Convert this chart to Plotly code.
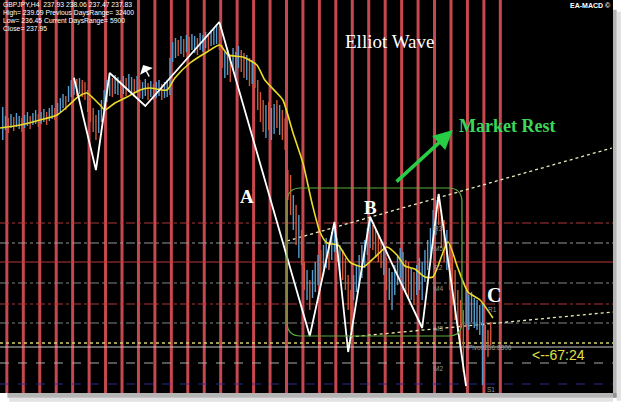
import plotly.graph_objects as go

# ---------------- data ----------------
bars_per_day = 6
bar_index = list(range(1, 180))
bar_high = [
    239.23, 239.14, 239.12, 239.16, 239.13, 239.17, 239.14, 239.12, 239.15, 239.18,
    239.14, 239.17, 239.20, 239.16, 239.18, 239.21, 239.18, 239.22, 239.25, 239.22,
    239.27, 239.32, 239.36, 239.34, 239.44, 239.50, 239.53, 239.51, 239.52, 239.50,
    239.48, 239.40, 239.32, 239.22, 239.15, 239.20, 239.30, 239.40, 239.50, 239.54,
    239.52, 239.55, 239.53, 239.50, 239.54, 239.52, 239.56, 239.53, 239.51, 239.54,
    239.50, 239.48, 239.51, 239.47, 239.49, 239.46, 239.48, 239.50, 239.46, 239.48,
    239.50, 239.72, 239.88, 239.92, 239.90, 239.94, 239.91, 239.95, 239.93, 239.96,
    239.94, 239.92, 239.97, 239.95, 239.98, 239.96, 240.00, 240.02, 240.06, 240.04,
    239.85, 239.78, 239.80, 239.75, 239.82, 239.78, 239.84, 239.80, 239.77, 239.75,
    239.72, 239.70, 239.68, 239.50, 239.38, 239.30, 239.25, 239.28, 239.22, 239.26,
    239.30, 239.25, 239.20, 239.12, 238.60, 238.55, 238.35, 238.25, 238.15, 238.00,
    237.68, 237.60, 237.50, 237.60, 237.68, 237.75, 237.80, 237.85, 237.92, 237.88,
    237.98, 238.05, 237.92, 237.85, 237.80, 237.72, 237.55, 237.40, 237.55, 237.65,
    237.75, 237.85, 237.90, 238.02, 238.10, 238.05, 238.00, 237.95, 237.90, 237.85,
    237.72, 237.62, 237.58, 237.65, 237.75, 237.82, 237.78, 237.70, 237.68, 237.62,
    237.58, 237.65, 237.72, 237.68, 237.80, 237.90, 238.02, 238.20, 238.30, 238.36,
    238.20, 238.10, 238.00, 237.85, 237.75, 237.60, 237.40, 237.30, 237.20, 237.40,
    237.35, 237.38, 237.32, 237.30, 237.25, 237.27, 237.05, 237.00, 237.08,
]
bar_low = [
    238.90, 239.00, 238.97, 239.02, 238.99, 239.03, 239.01, 238.98, 239.02, 239.04,
    239.01, 239.05, 239.06, 239.03, 239.06, 239.08, 239.05, 239.09, 239.11, 239.10,
    239.14, 239.18, 239.22, 239.20, 239.28, 239.33, 239.35, 239.34, 239.36, 239.33,
    239.30, 239.18, 239.08, 238.98, 238.90, 238.97, 239.08, 239.18, 239.28, 239.34,
    239.33, 239.36, 239.35, 239.32, 239.36, 239.34, 239.38, 239.35, 239.33, 239.37,
    239.32, 239.31, 239.34, 239.30, 239.33, 239.30, 239.32, 239.34, 239.30, 239.32,
    239.33, 239.35, 239.68, 239.72, 239.74, 239.76, 239.73, 239.78, 239.75, 239.80,
    239.77, 239.75, 239.80, 239.78, 239.82, 239.79, 239.84, 239.85, 239.86, 239.80,
    239.62, 239.52, 239.55, 239.48, 239.60, 239.54, 239.62, 239.58, 239.52, 239.50,
    239.44, 239.46, 239.42, 239.20, 239.08, 238.98, 238.92, 239.00, 238.90, 238.96,
    239.02, 238.95, 238.90, 238.80, 238.30, 238.15, 238.00, 237.85, 237.72, 237.65,
    237.40, 237.30, 237.20, 237.32, 237.38, 237.45, 237.50, 237.55, 237.62, 237.60,
    237.70, 237.78, 237.68, 237.55, 237.50, 237.40, 237.20, 237.00, 237.30, 237.38,
    237.45, 237.52, 237.62, 237.75, 237.82, 237.80, 237.72, 237.68, 237.62, 237.55,
    237.40, 237.30, 237.20, 237.35, 237.45, 237.52, 237.40, 237.38, 237.32, 237.30,
    237.25, 237.35, 237.40, 237.30, 237.48, 237.60, 237.70, 237.85, 237.95, 238.05,
    237.82, 237.68, 237.60, 237.40, 237.25, 237.10, 236.95, 236.80, 236.58, 237.05,
    237.00, 237.08, 237.02, 237.00, 236.95, 236.45, 236.80, 236.73, 236.85,
]
bar_dir = ("UUDUDUUDUU" "DUUDUUDUUD" "UUUDUUUDUD" "DDDDDUUUUU" "DUUDUDUUDU"
           "DUUDUDUUDU" "UUUUDUDUDU" "UDUUUDUUUD" "DUUDUUUDDU" "DUDDDDUDUU"
           "DUDDDDUDUD" "DUDUUUDUUD" "UUDUDDDDUU" "UUUUUDDDDU" "DUUUUUUDDU"
           "DUUUUUUUUD" "DDUDDDDDDU" "UUUUUUDDD")

ma_x = [0, 7.3, 14.6, 20.8, 24.4, 28.4, 31.7, 33.9, 36.5, 38.3, 41.9, 46.3, 51.1, 54.7,
        60.9, 63.8, 69.3, 75.5, 80.2, 83.2, 88.6, 93.7, 96.6, 101.0, 103.2, 106.9, 110.5,
        113.8, 116.7, 119.3, 123.3, 127.6, 132.4, 136.8, 141.1, 144.8, 147.7, 151.3, 155.0,
        157.9, 163.4, 167.0, 170.7, 175.1, 179.8]
ma_y = [239.02, 239.05, 239.10, 239.15, 239.23, 239.33, 239.37, 239.32, 239.25, 239.20,
        239.27, 239.33, 239.40, 239.42, 239.40, 239.52, 239.67, 239.78, 239.85, 239.75,
        239.73, 239.65, 239.50, 239.37, 239.30, 238.97, 238.67, 238.27, 237.98, 237.87,
        237.85, 237.68, 237.63, 237.73, 237.83, 237.75, 237.64, 237.61, 237.53, 237.53,
        237.88, 237.62, 237.38, 237.30, 237.12]

zz_x = [27, 35, 40, 53, 80, 113, 122, 127, 135, 154, 160, 170]
zz_y = [239.52, 238.60, 239.57, 239.24, 240.08, 236.94, 238.08, 236.78, 238.13, 237.02,
        238.36, 236.44]

level_names = ["R3", "M5", "R2", "M4", "R1", "M3", "Pivot 236.8306", "M2", "S1"]
level_prices = [238.07, 237.87, 237.68, 237.47, 237.26, 237.07, 236.83, 236.67, 236.46]
level_colors = ["rgb(175,55,55)", "rgb(150,150,150)", "rgb(185,55,55)", "rgb(130,130,130)",
                "rgb(175,55,55)", "rgb(130,130,130)", "rgb(200,200,200)", "rgb(170,170,170)",
                "rgb(45,45,140)"]
level_dash = ["dashdot", "dashdot", "solid", "dashdot", "dashdot", "dashdot", "solid",
              "dash", "dash"]
level_label_x = [160, 160, 160, 160, 179.5, 160, 170.5, 160, 179]
bid_price = 236.87

trend_upper_x = [104.7, 223.2]
trend_upper_y = [237.89, 238.82]
trend_lower_x = [127.6, 223.6]
trend_lower_y = [236.93, 237.18]

box_x = [104.7, 168.5]
box_y = [236.94, 238.42]

header_lines = ["GBPJPY,H4  237.93 238.06 237.47 237.83",
                "High= 239.69 Previous DaysRange= 32400",
                "Low= 236.45 Current DaysRange= 5900",
                "Close= 237.95"]

X_RANGE = [0, 223.6]
Y_RANGE = [236.37, 240.30]

# ---------------- figure ----------------
fig = go.Figure()

# day separators
n_days = 31
sep_x, sep_y = [], []
for k in range(n_days):
    s = 2.5 + bars_per_day * k
    sep_x += [s, s, None]
    sep_y += [Y_RANGE[0], Y_RANGE[1], None]
fig.add_trace(go.Scatter(x=sep_x, y=sep_y, mode="lines",
                         line=dict(color="rgb(198,72,78)", width=3), hoverinfo="skip"))

# pivot levels
for p, c, d in zip(level_prices, level_colors, level_dash):
    fig.add_trace(go.Scatter(x=X_RANGE, y=[p, p], mode="lines",
                             line=dict(color=c, width=1, dash=d), hoverinfo="skip"))
fig.add_trace(go.Scatter(x=X_RANGE, y=[bid_price, bid_price], mode="lines",
                         line=dict(color="rgb(210,210,110)", width=1.6, dash="dot"),
                         hoverinfo="skip"))

# trend lines
fig.add_trace(go.Scatter(x=trend_upper_x, y=trend_upper_y, mode="lines",
                         line=dict(color="rgb(235,235,190)", width=1.3, dash="dot")))
fig.add_trace(go.Scatter(x=trend_lower_x, y=trend_lower_y, mode="lines",
                         line=dict(color="rgb(235,235,170)", width=1.3, dash="dot")))

# candles
def segs(dirc):
    xs, ys = [], []
    for i, h, l, d in zip(bar_index, bar_high, bar_low, bar_dir):
        if d == dirc:
            xs += [i, i, None]
            ys += [l, h, None]
    return xs, ys

ux, uy = segs("U")
dx, dy = segs("D")
fig.add_trace(go.Scatter(x=ux, y=uy, mode="lines",
                         line=dict(color="rgb(85,155,205)", width=1.4)))
fig.add_trace(go.Scatter(x=dx, y=dy, mode="lines",
                         line=dict(color="rgb(210,85,55)", width=1.4)))

# moving average
fig.add_trace(go.Scatter(x=ma_x, y=ma_y, mode="lines",
                         line=dict(color="rgb(235,220,40)", width=1.6, shape="spline",
                                   smoothing=0.6)))
# zigzag
fig.add_trace(go.Scatter(x=zz_x, y=zz_y, mode="lines",
                         line=dict(color="white", width=1.8)))

# rounded green box
x0, x1 = box_x
y0, y1 = box_y
rx, ry = 5.0, 0.14
path = (f"M {x0+rx},{y1} L {x1-rx},{y1} Q {x1},{y1} {x1},{y1-ry} "
        f"L {x1},{y0+ry} Q {x1},{y0} {x1-rx},{y0} L {x0+rx},{y0} "
        f"Q {x0},{y0} {x0},{y0+ry} L {x0},{y1-ry} Q {x0},{y1} {x0+rx},{y1} Z")
shapes = [dict(type="path", path=path, xref="x", yref="y",
               line=dict(color="rgb(95,170,60)", width=1.2), layer="above")]

# frame shadow (right / bottom)
shapes += [
    dict(type="rect", xref="paper", yref="paper", x0=1.0, x1=1.006, y0=-0.012, y1=0.975,
         fillcolor="rgba(120,120,120,0.55)", line=dict(width=0), layer="above"),
    dict(type="rect", xref="paper", yref="paper", x0=1.006, x1=1.013, y0=-0.02, y1=0.97,
         fillcolor="rgba(190,190,190,0.45)", line=dict(width=0), layer="above"),
    dict(type="rect", xref="paper", yref="paper", x0=0.012, x1=1.006, y0=-0.012, y1=0.0,
         fillcolor="rgba(120,120,120,0.55)", line=dict(width=0), layer="above"),
    dict(type="rect", xref="paper", yref="paper", x0=0.015, x1=1.0, y0=-0.022, y1=-0.012,
         fillcolor="rgba(190,190,190,0.45)", line=dict(width=0), layer="above"),
]

ann = []
# header (4 separate lines, tightly spaced like the terminal overlay)
hy_px = [5.0, 12.8, 20.6, 28.4]
for t, ypx in zip(header_lines, hy_px):
    ann.append(dict(text=t, xref="paper", yref="paper", x=0.003, y=1 - ypx / 393,
                    xanchor="left", yanchor="middle", showarrow=False, borderpad=0,
                    font=dict(family="Liberation Sans", size=6.8, color="white")))
ann.append(dict(text="<b>EA-MACD ©</b>", xref="paper", yref="paper", x=0.998, y=0.9855,
                xanchor="right", yanchor="middle", showarrow=False, borderpad=0,
                font=dict(family="Liberation Sans", size=7, color="white")))
# level labels
for name, p, lx in zip(level_names, level_prices, level_label_x):
    is_piv = name.startswith("Pivot")
    ann.append(dict(text=name, x=lx, y=p, xanchor="left" if is_piv else "center",
                    yanchor="middle", yshift=0 if is_piv else -5,
                    showarrow=False, borderpad=0,
                    font=dict(family="Liberation Sans", size=6.5, color="rgb(150,150,150)")))
# titles / wave labels
serif = "Liberation Serif"
ann += [
    dict(text="Elliot Wave", x=142.2, y=239.89, showarrow=False,
         font=dict(family=serif, size=19, color="white")),
    dict(text="<b>Market Rest</b>", x=184.9, y=239.04, showarrow=False,
         font=dict(family=serif, size=18, color="rgb(60,215,90)")),
    dict(text="<b>A</b>", x=90.1, y=238.34, showarrow=False,
         font=dict(family=serif, size=19, color="white")),
    dict(text="<b>B</b>", x=135.3, y=238.23, showarrow=False,
         font=dict(family=serif, size=19, color="white")),
    dict(text="<b>C</b>", x=180.2, y=237.35, showarrow=False,
         font=dict(family=serif, size=20, color="white")),
    dict(text="<--67:24", x=203.9, y=236.75, showarrow=False,
         font=dict(family="Liberation Sans", size=14, color="rgb(225,225,70)")),
    # green arrow
    dict(text="", x=165.2, y=239.00, ax=144.1, ay=238.47, axref="x", ayref="y",
         showarrow=True, arrowhead=2, arrowsize=1.1, arrowwidth=3.5,
         arrowcolor="rgb(40,205,70)"),
    # mouse cursor
    dict(text="", x=52.2, y=239.65, ax=54.7, ay=239.52, axref="x", ayref="y",
         showarrow=True, arrowhead=1, arrowsize=1.6, arrowwidth=1.5, arrowcolor="white"),
]

fig.update_layout(
    width=625, height=405,
    margin=dict(l=0, r=12, t=0, b=12),
    paper_bgcolor="white", plot_bgcolor="black",
    showlegend=False,
    xaxis=dict(range=X_RANGE, visible=False, showgrid=False, zeroline=False, fixedrange=True),
    yaxis=dict(range=Y_RANGE, visible=False, showgrid=False, zeroline=False, fixedrange=True),
    shapes=shapes, annotations=ann,
)

fig.write_html("out.html")
